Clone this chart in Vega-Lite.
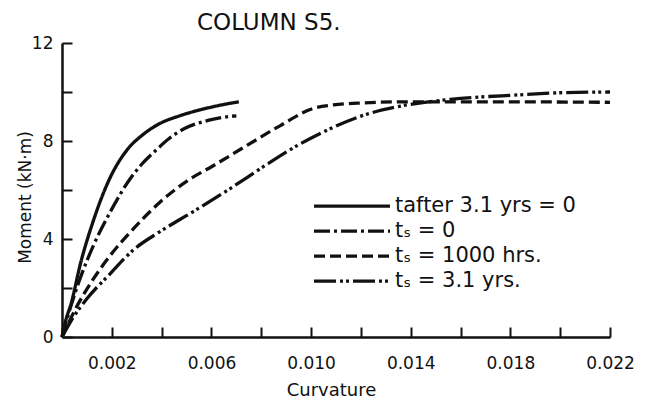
{
  "$schema": "https://vega.github.io/schema/vega-lite/v6.json",
  "width": 548,
  "height": 294,
  "autosize": {"type": "none"},
  "padding": {"left": 62, "top": 43, "right": 36, "bottom": 68},
  "background": "white",
  "title": {"text": "COLUMN S5.", "anchor": "start", "frame": "group", "dx": 135, "fontSize": 23, "font": "DejaVu Sans", "fontWeight": "normal", "color": "#111", "baseline": "bottom", "offset": -24},
  "data": {"values": [
    {"series": "tafter 3.1 yrs = 0", "curvature": 0, "moment": 0},
    {"series": "tafter 3.1 yrs = 0", "curvature": 0.00012, "moment": 0.56},
    {"series": "tafter 3.1 yrs = 0", "curvature": 0.00039, "moment": 1.45},
    {"series": "tafter 3.1 yrs = 0", "curvature": 0.00072, "moment": 2.91},
    {"series": "tafter 3.1 yrs = 0", "curvature": 0.00126, "moment": 4.75},
    {"series": "tafter 3.1 yrs = 0", "curvature": 0.00193, "moment": 6.5},
    {"series": "tafter 3.1 yrs = 0", "curvature": 0.0026, "moment": 7.62},
    {"series": "tafter 3.1 yrs = 0", "curvature": 0.0033, "moment": 8.3},
    {"series": "tafter 3.1 yrs = 0", "curvature": 0.0039, "moment": 8.7},
    {"series": "tafter 3.1 yrs = 0", "curvature": 0.0047, "moment": 9.02},
    {"series": "tafter 3.1 yrs = 0", "curvature": 0.0055, "moment": 9.26},
    {"series": "tafter 3.1 yrs = 0", "curvature": 0.0063, "moment": 9.45},
    {"series": "tafter 3.1 yrs = 0", "curvature": 0.0071, "moment": 9.6},
    {"series": "tₛ = 0", "curvature": 0, "moment": 0},
    {"series": "tₛ = 0", "curvature": 0.00032, "moment": 1.14},
    {"series": "tₛ = 0", "curvature": 0.00072, "moment": 2.37},
    {"series": "tₛ = 0", "curvature": 0.00126, "moment": 3.73},
    {"series": "tₛ = 0", "curvature": 0.00193, "moment": 5.09},
    {"series": "tₛ = 0", "curvature": 0.00273, "moment": 6.45},
    {"series": "tₛ = 0", "curvature": 0.0032, "moment": 7.05},
    {"series": "tₛ = 0", "curvature": 0.0038, "moment": 7.65},
    {"series": "tₛ = 0", "curvature": 0.0043, "moment": 8.1},
    {"series": "tₛ = 0", "curvature": 0.0049, "moment": 8.5},
    {"series": "tₛ = 0", "curvature": 0.0059, "moment": 8.85},
    {"series": "tₛ = 0", "curvature": 0.007, "moment": 9.03},
    {"series": "tₛ = 1000 hrs.", "curvature": 0, "moment": 0},
    {"series": "tₛ = 1000 hrs.", "curvature": 0.00059, "moment": 1.24},
    {"series": "tₛ = 1000 hrs.", "curvature": 0.00126, "moment": 2.37},
    {"series": "tₛ = 1000 hrs.", "curvature": 0.00193, "moment": 3.32},
    {"series": "tₛ = 1000 hrs.", "curvature": 0.00286, "moment": 4.41},
    {"series": "tₛ = 1000 hrs.", "curvature": 0.00393, "moment": 5.5},
    {"series": "tₛ = 1000 hrs.", "curvature": 0.00507, "moment": 6.4},
    {"series": "tₛ = 1000 hrs.", "curvature": 0.00607, "moment": 6.99},
    {"series": "tₛ = 1000 hrs.", "curvature": 0.00741, "moment": 7.81},
    {"series": "tₛ = 1000 hrs.", "curvature": 0.00875, "moment": 8.62},
    {"series": "tₛ = 1000 hrs.", "curvature": 0.01009, "moment": 9.33},
    {"series": "tₛ = 1000 hrs.", "curvature": 0.01089, "moment": 9.47},
    {"series": "tₛ = 1000 hrs.", "curvature": 0.01196, "moment": 9.55},
    {"series": "tₛ = 1000 hrs.", "curvature": 0.01394, "moment": 9.6},
    {"series": "tₛ = 1000 hrs.", "curvature": 0.01704, "moment": 9.6},
    {"series": "tₛ = 1000 hrs.", "curvature": 0.022, "moment": 9.58},
    {"series": "tₛ = 3.1 yrs.", "curvature": 0, "moment": 0},
    {"series": "tₛ = 3.1 yrs.", "curvature": 0.00045, "moment": 0.8},
    {"series": "tₛ = 3.1 yrs.", "curvature": 0.00099, "moment": 1.55},
    {"series": "tₛ = 3.1 yrs.", "curvature": 0.00193, "moment": 2.58},
    {"series": "tₛ = 3.1 yrs.", "curvature": 0.00286, "moment": 3.55},
    {"series": "tₛ = 3.1 yrs.", "curvature": 0.00393, "moment": 4.3},
    {"series": "tₛ = 3.1 yrs.", "curvature": 0.00527, "moment": 5.12},
    {"series": "tₛ = 3.1 yrs.", "curvature": 0.00674, "moment": 6.05},
    {"series": "tₛ = 3.1 yrs.", "curvature": 0.00808, "moment": 6.95},
    {"series": "tₛ = 3.1 yrs.", "curvature": 0.00942, "moment": 7.8},
    {"series": "tₛ = 3.1 yrs.", "curvature": 0.01076, "moment": 8.5},
    {"series": "tₛ = 3.1 yrs.", "curvature": 0.01196, "moment": 9.0},
    {"series": "tₛ = 3.1 yrs.", "curvature": 0.0129, "moment": 9.28},
    {"series": "tₛ = 3.1 yrs.", "curvature": 0.01384, "moment": 9.47},
    {"series": "tₛ = 3.1 yrs.", "curvature": 0.0156, "moment": 9.7},
    {"series": "tₛ = 3.1 yrs.", "curvature": 0.0183, "moment": 9.88},
    {"series": "tₛ = 3.1 yrs.", "curvature": 0.02, "moment": 9.97},
    {"series": "tₛ = 3.1 yrs.", "curvature": 0.022, "moment": 10.0}
  ]},
  "mark": {"type": "line", "color": "#111", "strokeWidth": 3.3, "interpolate": "monotone"},
  "encoding": {
    "x": {
      "field": "curvature", "type": "quantitative",
      "scale": {"domain": [0, 0.022], "nice": false, "zero": true},
      "axis": {
        "title": "Curvature",
        "values": [0, 0.002, 0.004, 0.006, 0.008, 0.01, 0.012, 0.014, 0.016, 0.018, 0.02, 0.022],
        "format": ".3f",
        "labelExpr": "round(datum.value*1000) % 4 == 2 ? datum.label : ''",
        "grid": false,
        "tickSize": -10, "tickWidth": 2, "tickColor": "#111",
        "domainColor": "#111", "domainWidth": 2.5,
        "labelFont": "DejaVu Sans", "labelFontSize": 17, "labelColor": "#111",
        "labelPadding": 28, "labelOverlap": false, "labelFlush": false, "labelBound": false,
        "titleFont": "DejaVu Sans", "titleFontSize": 18, "titleFontWeight": "normal", "titleColor": "#111",
        "titleX": 269, "titleY": 58, "titleBaseline": "alphabetic"
      }
    },
    "y": {
      "field": "moment", "type": "quantitative",
      "scale": {"domain": [0, 12], "nice": false},
      "axis": {
        "title": "Moment (kN·m)",
        "values": [0, 2, 4, 6, 8, 10, 12],
        "labelExpr": "datum.value % 4 == 0 ? datum.label : ''",
        "grid": false,
        "tickSize": -10, "tickWidth": 2, "tickColor": "#111",
        "domainColor": "#111", "domainWidth": 2.5,
        "labelFont": "DejaVu Sans", "labelFontSize": 17, "labelColor": "#111",
        "labelPadding": 19, "labelOverlap": false, "labelBound": false, "labelFlush": false,
        "titleFont": "DejaVu Sans", "titleFontSize": 17, "titleFontWeight": "normal", "titleColor": "#111",
        "titleX": -32, "titleY": 154, "titleBaseline": "alphabetic"
      }
    },
    "strokeDash": {
      "field": "series", "type": "nominal",
      "scale": {
        "domain": ["tafter 3.1 yrs = 0", "tₛ = 0", "tₛ = 1000 hrs.", "tₛ = 3.1 yrs."],
        "range": [[1, 0], [16, 4, 3, 4], [11, 5], [22, 4, 3, 3, 3, 4]]
      },
      "legend": {
        "orient": "none", "legendX": 250, "legendY": 151, "title": null,
        "symbolType": "stroke", "symbolSize": 5776, "symbolStrokeWidth": 3.3, "symbolStrokeColor": "#111",
        "labelFont": "DejaVu Sans", "labelFontSize": 21, "labelColor": "#111", "labelLimit": 300,
        "clipHeight": 24.4, "rowPadding": 0, "labelOffset": 3, "padding": 0, "symbolLimit": 0
      }
    }
  },
  "config": {"view": {"stroke": null}}
}
